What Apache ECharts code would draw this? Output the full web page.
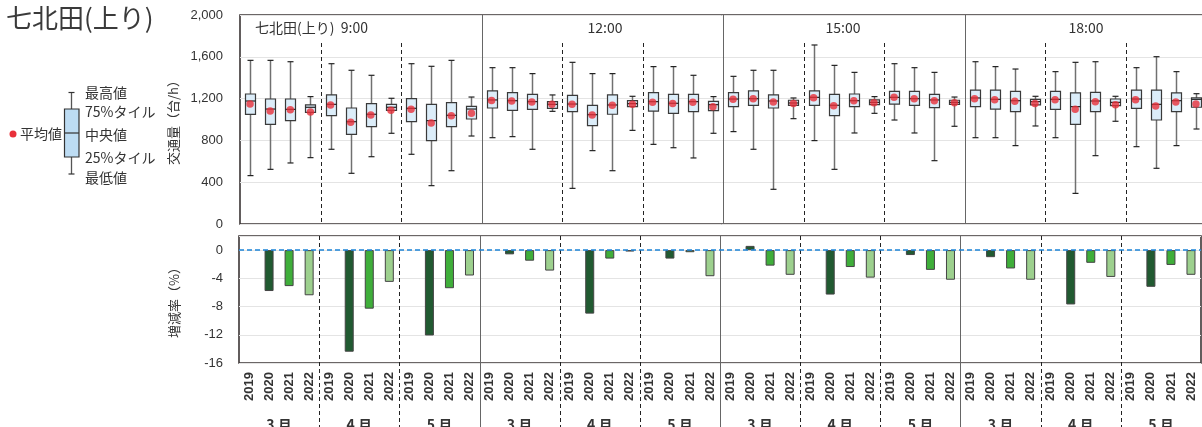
<!DOCTYPE html>
<html><head><meta charset="utf-8">
<script src="https://cdn.jsdelivr.net/npm/echarts@6/dist/echarts.min.js"></script>
<style>html,body{margin:0;padding:0;background:#fff}#c{width:1202px;height:427px}</style>
</head><body><div id="c"></div>
<script>
const times = ['9:00', '12:00', '15:00', '18:00'];
const months = ['3 月', '4 月', '5 月'];
const years = ['2019', '2020', '2021', '2022'];

// 48 slots: time -> month -> year
const boxMax = [
  1566,1566,1553,1219, 1534,1471,1423,1203, 1534,1509,1566,1215,
  1496,1496,1439,1235, 1547,1439,1439,1222, 1506,1506,1423,1219,
  1413,1471,1471,1206, 1713,1518,1451,1219, 1534,1496,1451,1215,
  1553,1506,1483,1222, 1458,1547,1553,1222, 1496,1601,1458,1247
];
const boxQ3 = [
  1244,1196,1196,1139, 1235,1110,1152,1145, 1199,1145,1161,1126,
  1273,1257,1241,1171, 1231,1136,1235,1180, 1257,1241,1241,1174,
  1257,1273,1235,1184, 1273,1241,1244,1187, 1270,1270,1241,1184,
  1282,1282,1270,1193, 1270,1254,1260,1196, 1282,1282,1254,1206
];
const boxMed = [
  1177,1100,1097,1117, 1145,979,1050,1117, 1107,989,1040,1100,
  1187,1180,1171,1145, 1148,1046,1139,1152, 1171,1155,1171,1142,
  1196,1199,1177,1158, 1212,1136,1180,1164, 1212,1199,1187,1164,
  1206,1193,1180,1171, 1193,1123,1177,1164, 1196,1145,1180,1193
];
const boxQ1 = [
  1050,954,989,1069, 1037,858,931,1088, 979,798,931,1005,
  1110,1088,1097,1107, 1075,941,1050,1123, 1081,1059,1075,1085,
  1123,1136,1110,1136, 1136,1037,1123,1142, 1148,1136,1113,1145,
  1123,1100,1075,1139, 1097,954,1075,1133, 1107,995,1075,1117
];
const boxMin = [
  463,523,584,635, 715,485,644,868, 667,367,510,842,
  826,836,715,1078, 341,702,510,896, 762,730,632,868,
  884,715,332,1008, 798,523,871,1059, 995,871,606,935,
  826,826,750,938, 826,293,654,983, 740,533,750,909
];
const boxMean = [
  1148,1081,1094,1072, 1139,973,1043,1088, 1097,967,1037,1059,
  1183,1177,1168,1145, 1145,1043,1136,1145, 1164,1152,1164,1123,
  1193,1199,1168,1152, 1209,1132,1180,1161, 1212,1199,1180,1161,
  1199,1190,1174,1152, 1190,1097,1171,1142, 1190,1129,1168,1148
];

// change rate vs 2019 (%), 12 slots: time -> month
const chg2020 = [-5.8,-14.4,-12.1, -0.6,-9.0,-1.2, 0.6,-6.3,-0.7, -1.0,-7.7,-5.2];
const chg2021 = [-5.1,-8.3,-5.4, -1.5,-1.2,-0.3, -2.2,-2.4,-2.8, -2.6,-1.8,-2.1];
const chg2022 = [-6.4,-4.5,-3.6, -2.9,-0.2,-3.7, -3.5,-3.9,-4.2, -4.2,-3.8,-3.5];

const yTopTicks = [0, 400, 800, 1200, 1600, 2000];
const yBotTicks = [-16, -12, -8, -4, 0];

// ---- build ----
const cats = [];
const monthCats = [];
times.forEach(t => months.forEach(m => { monthCats.push(m); years.forEach(y => cats.push(t + '|' + m + '|' + y)); }));
const yearCats = cats.map(c => c.split('|')[2]);

const boxData = cats.map((c, i) => [i, boxMin[i], boxQ1[i], boxMed[i], boxQ3[i], boxMax[i]]);
const meanData = cats.map((c, i) => [i, boxMean[i]]);

const yearColors = {'2020': '#215a31', '2021': '#3fae3a', '2022': '#9dd08e'};
const chgByYear = {'2020': chg2020, '2021': chg2021, '2022': chg2022};
const barData = cats.map((c, i) => {
  const y = yearCats[i];
  const g = Math.floor(i / 4);
  if (y === '2019') return '-';
  return {value: chgByYear[y][g], itemStyle: {color: yearColors[y]}};
});

const seps = [];
for (let i = 4; i < 48; i += 4) seps.push([i, 0]);

const FONT = "'Liberation Sans', 'Noto Sans CJK JP', sans-serif";
const JFONT = "'Noto Sans CJK JP', 'Liberation Sans', sans-serif";

function boxRender(params, api) {
  const i = api.value(0);
  const pMin = api.coord([i, api.value(1)]);
  const pQ1 = api.coord([i, api.value(2)]);
  const pMed = api.coord([i, api.value(3)]);
  const pQ3 = api.coord([i, api.value(4)]);
  const pMax = api.coord([i, api.value(5)]);
  const x = Math.round(pMin[0]) + 0.5;
  const bw = 10, cw = 6;
  return {type: 'group', children: [
    {type: 'line', shape: {x1: x, y1: pMax[1], x2: x, y2: pMin[1]}, style: {stroke: '#707070', lineWidth: 1.5}},
    {type: 'line', shape: {x1: x - cw / 2, y1: pMax[1], x2: x + cw / 2, y2: pMax[1]}, style: {stroke: '#222', lineWidth: 1.2}},
    {type: 'line', shape: {x1: x - cw / 2, y1: pMin[1], x2: x + cw / 2, y2: pMin[1]}, style: {stroke: '#222', lineWidth: 1.2}},
    {type: 'rect', shape: {x: x - bw / 2, y: pQ3[1], width: bw, height: pQ1[1] - pQ3[1]}, style: {fill: '#dcedf9', stroke: '#3a3a3a', lineWidth: 1.2}},
    {type: 'line', shape: {x1: x - bw / 2, y1: pMed[1], x2: x + bw / 2, y2: pMed[1]}, style: {stroke: '#222', lineWidth: 1.2}}
  ]};
}

function sepRender(gridIdx) {
  return function (params, api) {
    const idx = api.value(0);
    const c = api.coord([idx, 0]);
    const bw = api.size([1, 0])[0];
    const x = Math.round(c[0] - bw / 2) + 0.5;
    const solid = idx % 12 === 0;
    const cs = params.coordSys;
    let y1, y2;
    if (gridIdx === 0) { y1 = solid ? cs.y : cs.y + 28; y2 = cs.y + cs.height; }
    else { y1 = cs.y; y2 = api.getHeight(); }
    return {type: 'line', shape: {x1: x, y1: y1, x2: x, y2: y2},
      style: {stroke: solid ? '#666' : '#222', lineWidth: 1, lineDash: solid ? null : [4, 3]}};
  };
}

const chart = echarts.init(document.getElementById('c'), null, {renderer: 'canvas'});

const legendTexts = [['最高値', 92.5], ['75%タイル', 112], ['中央値', 135], ['25%タイル', 157.5], ['最低値', 178]];

const graphic = [
  {type: 'text', left: 6, top: 5, style: {text: '七北田(上り)', font: "normal 26px 'Noto Sans CJK JP'", fill: '#3a3a3a'}},
  {type: 'circle', shape: {cx: 13, cy: 134, r: 3.5}, style: {fill: '#e8303a'}},
  {type: 'text', x: 20, y: 134, style: {text: '平均値', font: "normal 14px 'Noto Sans CJK JP'", fill: '#333', verticalAlign: 'middle'}},
  {type: 'line', shape: {x1: 71.5, y1: 92.5, x2: 71.5, y2: 174}, style: {stroke: '#555', lineWidth: 1.3}},
  {type: 'line', shape: {x1: 68.5, y1: 92.5, x2: 74.5, y2: 92.5}, style: {stroke: '#333', lineWidth: 1.2}},
  {type: 'line', shape: {x1: 68.5, y1: 174, x2: 74.5, y2: 174}, style: {stroke: '#333', lineWidth: 1.2}},
  {type: 'rect', shape: {x: 64.5, y: 109, width: 14.5, height: 48}, style: {fill: '#bddcf3', stroke: '#333', lineWidth: 1.2}},
  {type: 'line', shape: {x1: 64.5, y1: 133, x2: 79, y2: 133}, style: {stroke: '#333', lineWidth: 1.2}},
  {type: 'text', x: 255, y: 28, style: {text: '七北田(上り)  ' + times[0], font: "normal 14px 'Noto Sans CJK JP'", fill: '#333', verticalAlign: 'middle'}},
  {type: 'text', x: 605, y: 28, style: {text: times[1], font: "normal 14px 'Noto Sans CJK JP'", fill: '#333', align: 'center', verticalAlign: 'middle'}},
  {type: 'text', x: 843, y: 28, style: {text: times[2], font: "normal 14px 'Noto Sans CJK JP'", fill: '#333', align: 'center', verticalAlign: 'middle'}},
  {type: 'text', x: 1086, y: 28, style: {text: times[3], font: "normal 14px 'Noto Sans CJK JP'", fill: '#333', align: 'center', verticalAlign: 'middle'}}
];
legendTexts.forEach(([t, y]) => graphic.push({type: 'text', x: 85, y: y, style: {text: t, font: "normal 14px 'Noto Sans CJK JP'", fill: '#333', verticalAlign: 'middle'}}));

const option = {
  animation: false,
  backgroundColor: '#fff',
  textStyle: {fontFamily: FONT},
  graphic: graphic,
  grid: [
    {left: 240, top: 15, width: 966, height: 209, show: true, borderColor: '#3b3535', borderWidth: 1.6, backgroundColor: 'transparent', outerBoundsMode: 'none', containLabel: false},
    {left: 239, top: 236, width: 962, height: 127, show: true, borderColor: '#3b3535', borderWidth: 1.6, backgroundColor: 'transparent', outerBoundsMode: 'none', containLabel: false}
  ],
  xAxis: [
    {type: 'category', gridIndex: 0, data: cats, boundaryGap: true, axisLine: {show: false}, axisTick: {show: false}, axisLabel: {show: false}, splitLine: {show: false}},
    {type: 'category', gridIndex: 1, data: yearCats, boundaryGap: true, axisLine: {show: false}, axisTick: {show: false},
      axisLabel: {rotate: 90, margin: 9, fontSize: 13, fontWeight: 'bold', color: '#333', interval: 0, fontFamily: FONT}, splitLine: {show: false}},
    {type: 'category', gridIndex: 1, data: monthCats, position: 'bottom', offset: 47, boundaryGap: true, axisLine: {show: false}, axisTick: {show: false},
      axisLabel: {margin: 8, fontSize: 14, fontWeight: 'bold', color: '#333', interval: 0, fontFamily: JFONT}, splitLine: {show: false}}
  ],
  yAxis: [
    {type: 'value', gridIndex: 0, min: yTopTicks[0], max: yTopTicks[yTopTicks.length - 1], interval: 400,
      name: '交通量（台/h）', nameLocation: 'middle', nameGap: 58, nameRotate: 90,
      nameTextStyle: {fontSize: 13, color: '#333', fontFamily: JFONT},
      axisLine: {show: false}, axisTick: {show: false},
      axisLabel: {fontSize: 13, color: '#333', margin: 17, formatter: v => v.toLocaleString('en-US')},
      splitLine: {lineStyle: {color: '#e4e4e4', width: 1}}},
    {type: 'value', gridIndex: 1, min: yBotTicks[0], max: 2, interval: 4,
      name: '増減率（%）', nameLocation: 'middle', nameGap: 58, nameRotate: 90,
      nameTextStyle: {fontSize: 13, color: '#333', fontFamily: JFONT},
      axisLine: {show: false}, axisTick: {show: false},
      axisLabel: {fontSize: 13, color: '#333', margin: 16, showMaxLabel: false, formatter: v => (v > 0 ? '' : String(v))},
      splitLine: {lineStyle: {color: '#e4e4e4', width: 1}}}
  ],
  series: [
    {type: 'custom', name: 'sepTop', xAxisIndex: 0, yAxisIndex: 0, data: seps, renderItem: sepRender(0), encode: {x: 0, y: 1}, z: 1, silent: true},
    {type: 'custom', name: 'box', xAxisIndex: 0, yAxisIndex: 0, data: boxData, renderItem: boxRender, encode: {x: 0, y: [1, 2, 3, 4, 5]}, z: 3},
    {type: 'scatter', name: '平均値', xAxisIndex: 0, yAxisIndex: 0, data: meanData, symbolSize: 7.5, itemStyle: {color: '#e8303a'}, z: 5},
    {type: 'custom', name: 'sepBot', xAxisIndex: 1, yAxisIndex: 1, data: seps, renderItem: sepRender(1), encode: {x: 0, y: 1}, z: 1, silent: true, clip: false},
    {type: 'bar', name: 'chg', xAxisIndex: 1, yAxisIndex: 1, data: barData, barWidth: 9,
      itemStyle: {borderColor: '#444', borderWidth: 1}, z: 3,
      markLine: {symbol: 'none', silent: true, label: {show: false}, data: [{yAxis: 0}],
        lineStyle: {color: '#1b84d8', width: 1.6, type: [5, 3]}}}
  ]
};
chart.setOption(option);
</script>
</body></html>
